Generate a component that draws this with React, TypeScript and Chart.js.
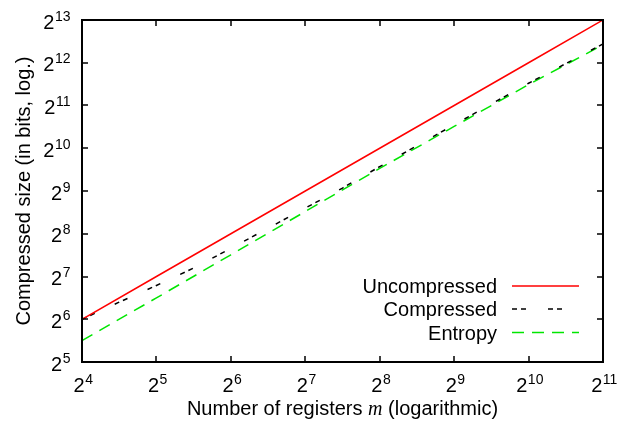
import React, { useEffect, useRef } from "react";
import { Chart, registerables } from "chart.js";

Chart.register(...registerables);

// Number of registers m (x values) for Uncompressed and Entropy
const registersM = [16, 32, 64, 128, 256, 512, 1024, 2048];
// Uncompressed size in bits
const uncompressedBits = [64, 128, 256, 512, 1024, 2048, 4096, 8192];
// Entropy in bits
const entropyBits = [45.3, 90.5, 182, 367, 739, 1458, 2876, 5479];
// Compressed series (read at more points)
const compressedM = [16, 22.6, 32, 45.3, 64, 90.5, 128, 181, 256, 512, 1024, 2048];
const compressedBits = [64, 84.4, 110.6, 147, 202, 280, 388, 537, 760, 1499, 2937, 5556];

// Tick labels: powers of two
const xTickExponents = [4, 5, 6, 7, 8, 9, 10, 11];
const yTickExponents = [5, 6, 7, 8, 9, 10, 11, 12, 13];

const seriesNames = ["Uncompressed", "Compressed", "Entropy"];
const xTitleParts = ["Number of registers ", "m", " (logarithmic)"];
const yTitle = "Compressed size (in bits, log.)";

const FONT = '"Liberation Sans", Arial, Helvetica, sans-serif';
const RED = "#ff0000";
const BLACK = "#000000";
const GREEN = "#00e600";
const DASH_COMPRESSED = [5, 4, 5, 22];
const DASH_ENTROPY = [12, 8];

function drawPow(ctx: CanvasRenderingContext2D, exp: number, x: number, baseline: number, align: "center" | "right") {
  ctx.font = `20px ${FONT}`;
  const wb = ctx.measureText("2").width;
  ctx.font = `14px ${FONT}`;
  const we = ctx.measureText(String(exp)).width;
  const start = align === "center" ? x - (wb + we) / 2 : x - (wb + we);
  ctx.textAlign = "left";
  ctx.textBaseline = "alphabetic";
  ctx.font = `20px ${FONT}`;
  ctx.fillText("2", start, baseline);
  ctx.font = `14px ${FONT}`;
  ctx.fillText(String(exp), start + wb + 0.5, baseline - 8);
}

const decorPlugin = {
  id: "gnuplotDecor",
  afterDraw(chart: any) {
    const ctx: CanvasRenderingContext2D = chart.ctx;
    const { left, right, top, bottom } = chart.chartArea;
    const xs = chart.scales.x;
    const ys = chart.scales.y;
    ctx.save();
    ctx.setLineDash([]);
    ctx.strokeStyle = "#000";
    ctx.fillStyle = "#000";
    // frame
    ctx.lineWidth = 2;
    ctx.strokeRect(left, top, right - left, bottom - top);
    // ticks
    ctx.lineWidth = 1.5;
    ctx.beginPath();
    xTickExponents.forEach((e) => {
      const px = Math.round(xs.getPixelForValue(Math.pow(2, e)));
      ctx.moveTo(px, bottom);
      ctx.lineTo(px, bottom - 6);
      ctx.moveTo(px, top);
      ctx.lineTo(px, top + 6);
    });
    yTickExponents.forEach((e) => {
      const py = Math.round(ys.getPixelForValue(Math.pow(2, e)));
      ctx.moveTo(left, py);
      ctx.lineTo(left + 6, py);
      ctx.moveTo(right, py);
      ctx.lineTo(right - 6, py);
    });
    ctx.stroke();

    // tick labels
    xTickExponents.forEach((e) => {
      const px = xs.getPixelForValue(Math.pow(2, e));
      drawPow(ctx, e, px + 1, 392, "center");
    });
    yTickExponents.forEach((e) => {
      const py = ys.getPixelForValue(Math.pow(2, e));
      drawPow(ctx, e, 70, py + 8.5, "right");
    });

    // x title
    ctx.textBaseline = "alphabetic";
    ctx.textAlign = "left";
    ctx.font = `20px ${FONT}`;
    const w1 = ctx.measureText(xTitleParts[0]).width;
    const w3 = ctx.measureText(xTitleParts[2]).width;
    ctx.font = `italic 20px "Liberation Serif", "Times New Roman", serif`;
    const w2 = ctx.measureText(xTitleParts[1]).width;
    const cx = (left + right) / 2;
    let sx = cx - (w1 + w2 + w3) / 2;
    ctx.font = `20px ${FONT}`;
    ctx.fillText(xTitleParts[0], sx, 415);
    sx += w1;
    ctx.font = `italic 20px "Liberation Serif", "Times New Roman", serif`;
    ctx.fillText(xTitleParts[1], sx, 415);
    sx += w2;
    ctx.font = `20px ${FONT}`;
    ctx.fillText(xTitleParts[2], sx, 415);

    // y title
    ctx.save();
    ctx.translate(30, (top + bottom) / 2);
    ctx.rotate(-Math.PI / 2);
    ctx.textAlign = "center";
    ctx.font = `20px ${FONT}`;
    ctx.fillText(yTitle, 0, 0);
    ctx.restore();

    // legend
    const rows = [286, 309, 332.5];
    const colors = [RED, BLACK, GREEN];
    const dashes = [[], DASH_COMPRESSED, DASH_ENTROPY];
    ctx.font = `20px ${FONT}`;
    ctx.textAlign = "right";
    seriesNames.forEach((name, i) => {
      ctx.fillStyle = "#000";
      ctx.fillText(name, 497, rows[i] + 7.2);
      ctx.strokeStyle = colors[i];
      ctx.lineWidth = 1.5;
      ctx.setLineDash(dashes[i]);
      ctx.beginPath();
      ctx.moveTo(512, rows[i]);
      ctx.lineTo(579, rows[i]);
      ctx.stroke();
    });
    ctx.restore();
  },
};

export default function App() {
  const canvasRef = useRef<HTMLCanvasElement | null>(null);

  useEffect(() => {
    if (!canvasRef.current) return;
    const chart = new Chart(canvasRef.current, {
      type: "line",
      data: {
        datasets: [
          {
            label: seriesNames[0],
            data: registersM.map((m, i) => ({ x: m, y: uncompressedBits[i] })),
            borderColor: RED,
            borderWidth: 1.5,
            pointRadius: 0,
            tension: 0,
          },
          {
            label: seriesNames[1],
            data: compressedM.map((m, i) => ({ x: m, y: compressedBits[i] })),
            borderColor: BLACK,
            borderWidth: 1.5,
            borderDash: DASH_COMPRESSED,
            pointRadius: 0,
            tension: 0,
          },
          {
            label: seriesNames[2],
            data: registersM.map((m, i) => ({ x: m, y: entropyBits[i] })),
            borderColor: GREEN,
            borderWidth: 1.5,
            borderDash: DASH_ENTROPY,
            pointRadius: 0,
            tension: 0,
          },
        ],
      },
      options: {
        animation: false,
        responsive: false,
        maintainAspectRatio: false,
        events: [],
        layout: { padding: { top: 20, right: 26, left: 0, bottom: 0 } },
        plugins: { legend: { display: false }, tooltip: { enabled: false }, title: { display: false } },
        scales: {
          x: {
            type: "logarithmic",
            min: 16,
            max: 2048,
            grid: { display: false },
            border: { display: false },
            ticks: { display: false },
            afterFit: (s: any) => {
              s.height = 64;
            },
          },
          y: {
            type: "logarithmic",
            min: 32,
            max: 8192,
            grid: { display: false },
            border: { display: false },
            ticks: { display: false },
            afterFit: (s: any) => {
              s.width = 82;
            },
          },
        },
      },
      plugins: [decorPlugin],
    });
    return () => chart.destroy();
  }, []);

  return (
    <div style={{ position: "absolute", left: 0, top: 0, width: 629, height: 426, background: "#fff" }}>
      <canvas ref={canvasRef} width={629} height={426} />
    </div>
  );
}
